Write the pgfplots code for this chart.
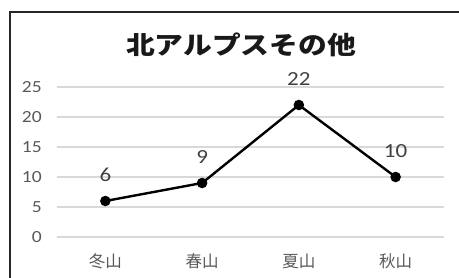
\documentclass[border=0pt]{standalone}
\usepackage{fontspec}
\setmainfont{Carlito}[FakeStretch=1.15]
\newfontfamily\cjk{Noto Sans CJK JP}
\newfontfamily\cjkt{Noto Sans CJK JP}[FakeStretch=1.15]
\usepackage{pgfplots}
\pgfplotsset{compat=1.18}
\definecolor{ticktxt}{HTML}{595959}
\definecolor{lbltxt}{HTML}{404040}
\definecolor{gridc}{HTML}{D9D9D9}
\begin{document}
\begin{tikzpicture}[x=1pt,y=1pt]
\useasboundingbox (0,0) rectangle (459,278);
\draw[line width=1.2pt,black!85] (10,-2)--(10,266)--(461,266);
\node[font=\cjkt\bfseries\fontsize{25}{25}\selectfont, text=black!90] at (241,233) {北アルプスその他};
\begin{axis}[
  at={(57pt,41pt)}, anchor=south west,
  scale only axis, width=387pt, height=150pt,
  xmin=-0.5, xmax=3.5, ymin=0, ymax=25,
  xtick={0,1,2,3},
  xticklabels={冬山,春山,夏山,秋山},
  ytick={0,5,10,15,20,25},
  axis line style={draw=none},
  major tick length=0pt,
  ymajorgrids,
  grid style={gridc, line width=1.3pt},
  /pgf/number format/assume math mode=true,
  yticklabel style={font=\fontsize{17}{17}\selectfont, text=ticktxt, anchor=east, inner sep=0pt, xshift=-15pt},
  xticklabel style={font=\cjk\fontsize{16.5}{16.5}\selectfont, text=ticktxt, anchor=center, inner sep=0pt, yshift=-24pt},
  clip=false,
  nodes near coords,
  every node near coord/.style={font=\fontsize{20}{20}\selectfont, text=lbltxt, anchor=center, inner sep=0pt, yshift=26pt},
]
\addplot[black, line width=2.4pt, mark=*, mark size=4pt, mark options={solid, fill=black}] coordinates {(0,6) (1,9) (2,22) (3,10)};
\end{axis}
\end{tikzpicture}
\end{document}
